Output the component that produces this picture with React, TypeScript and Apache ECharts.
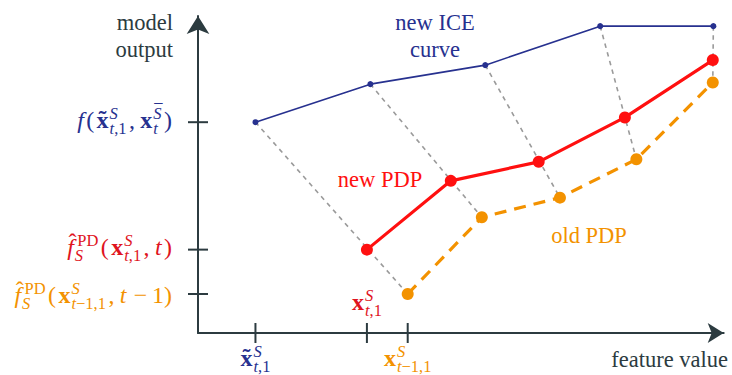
import React, { useEffect, useRef } from "react";
import * as echarts from "echarts";

// ---------------- data ----------------
const iceX = [1, 3, 5, 7, 8.97];
const iceY = [6.65, 7.85, 8.45, 9.68, 9.68];
const newPdpX = [2.94, 4.4, 5.93, 7.43, 8.96];
const newPdpY = [2.63, 4.8, 5.4, 6.8, 8.61];
const oldPdpX = [3.65, 4.94, 6.3, 7.63, 8.96];
const oldPdpY = [1.23, 3.65, 4.27, 5.48, 7.9];

const seriesNames = ["new ICE curve", "new PDP", "old PDP"];
const yAxisTitle = ["model", "output"];
const xAxisTitle = "feature value";

// math tick labels: [text, flags]
// flags: i italic, b bold, ^ superscript, _ subscript, | stacked under superscript,
//        ~ tilde accent, h hat accent, - bar accent, s thin space after
type Piece = [string, string];
const yTickLabels: Piece[][] = [
  [["f", "i"], ["(", ""], ["x", "b~"], ["S", "^i"], ["t", "_i|"], [",1", "_"], [",", "s"], ["x", "b"], ["S", "^i-"], ["t", "_i|"], [")", ""]],
  [["f", "ih"], ["PD", "^"], ["S", "_i|"], ["(", ""], ["x", "b"], ["S", "^i"], ["t", "_i|"], [",1", "_"], [",", "s"], ["t", "i"], [")", ""]],
  [["f", "ih"], ["PD", "^"], ["S", "_i|"], ["(", ""], ["x", "b"], ["S", "^i"], ["t", "_i|"], ["\u22121,1", "_"], [",", "s"], ["t", "i"], ["\u2009\u2212\u20091)", ""]],
];
const xTickLabels: Piece[][] = [
  [["x", "b~"], ["S", "^i"], ["t", "_i|"], [",1", "_"]],
  [["x", "b"], ["S", "^i"], ["t", "_i|"], [",1", "_"]],
  [["x", "b"], ["S", "^i"], ["t", "_i|"], ["\u22121,1", "_"]],
];

// ---------------- styles ----------------
const AXIS = "#2c3b40";
const BLUE = "#27318f";
const RED = "#ff1010";
const RED_TXT = "#e0141e";
const ORANGE = "#f39200";
const GRAY = "#9a9a9a";
const FONT = "Liberation Serif";
const BASE = 24;
const SCRIPT = 16.5;
const SUP = -9;
const SUB = 6;
const GAP = 2.4;
const THIN = 3;
const CENTRAL = 0.3375;

let mctx: CanvasRenderingContext2D | null = null;
function textW(t: string, size: number, it: boolean, b: boolean) {
  if (!mctx) mctx = document.createElement("canvas").getContext("2d");
  mctx!.font = `${it ? "italic " : ""}${b ? "bold " : ""}${size}px ${FONT}`;
  return mctx!.measureText(t).width;
}

function textEl(t: string, x: number, baseline: number, size: number, it: boolean, b: boolean, color: string, align = "left") {
  return {
    type: "text",
    x,
    y: baseline - CENTRAL * size,
    silent: true,
    z: 20,
    style: {
      text: t,
      fontSize: size,
      fontFamily: FONT,
      fontStyle: it ? "italic" : "normal",
      fontWeight: b ? "bold" : "normal",
      fill: color,
      align,
      verticalAlign: "middle",
      textAlign: align,
      textVerticalAlign: "middle",
    },
  };
}

function layoutMath(pieces: Piece[], color: string) {
  const els: any[] = [];
  let cur = 0;
  let maxX = 0;
  let scriptStart = 0;
  let prevScript = false;
  let prevItalicBase = false;
  pieces.forEach(([t, f], idx) => {
    const it = f.includes("i");
    const b = f.includes("b");
    const sup = f.includes("^");
    const sub = f.includes("_");
    const script = sup || sub;
    const size = script ? SCRIPT : BASE;
    if (!script) {
      cur = maxX + (idx > 0 ? GAP : 0);
    } else if (f.includes("|")) {
      cur = scriptStart;
    } else if (!prevScript) {
      scriptStart = maxX + 1;
      cur = scriptStart + (sup && prevItalicBase ? 2.5 : 0);
    }
    const w = textW(t, size, it, b);
    const dy = sup ? SUP : sub ? SUB : 0;
    els.push(textEl(t, cur, dy, size, it, b, color));
    if (f.includes("~")) els.push(textEl("\u02DC", cur + w / 2, dy - 1, BASE, false, true, color, "center"));
    if (f.includes("h")) els.push(textEl("\u02C6", cur + w / 2 + 2, dy - 5, BASE, false, false, color, "center"));
    if (f.includes("-")) els.push(textEl("\u00AF", cur + w / 2 + 1, dy - 3, SCRIPT, false, false, color, "center"));
    cur += w + (f.includes("s") ? THIN : 0);
    maxX = Math.max(maxX, cur);
    prevScript = script;
    if (!script) prevItalicBase = it;
  });
  return { els, width: maxX };
}

const option: any = {
  animation: false,
  grid: { left: 198, right: 8.3, top: 16, bottom: 42, containLabel: false, outerBoundsMode: "none" },
  xAxis: {
    type: "value",
    min: 0,
    max: 9.15,
    splitLine: { show: false },
    axisTick: { show: false },
    axisLabel: { show: false },
    axisLine: { show: true, onZero: false, symbol: ["none", "arrow"], symbolSize: [15, 16], lineStyle: { color: AXIS, width: 2 } },
  },
  yAxis: {
    type: "value",
    min: 0,
    max: 10,
    splitLine: { show: false },
    axisTick: { show: false },
    axisLabel: { show: false },
    axisLine: { show: true, onZero: false, symbol: ["none", "arrow"], symbolSize: [17, 18], lineStyle: { color: AXIS, width: 2 } },
  },
  series: [
    {
      type: "custom",
      name: "links",
      silent: true,
      z: 1,
      data: iceX.map((x, i) => [x, iceY[i], oldPdpX[i], oldPdpY[i]]),
      encode: { x: [0, 2], y: [1, 3] },
      renderItem: (_p: any, api: any) => {
        const a = api.coord([api.value(0), api.value(1)]);
        const b = api.coord([api.value(2), api.value(3)]);
        return {
          type: "line",
          shape: { x1: a[0], y1: a[1], x2: b[0], y2: b[1] },
          style: { stroke: GRAY, lineWidth: 1.6, lineDash: [4.5, 4.5] },
        };
      },
    },
    {
      type: "custom",
      name: "xticks",
      silent: true,
      z: 5,
      data: [iceX[0], newPdpX[0], oldPdpX[0]].map((v) => [v, 0]),
      encode: { x: 0, y: 1 },
      renderItem: (_p: any, api: any) => {
        const p = api.coord([api.value(0), api.value(1)]);
        return { type: "line", shape: { x1: p[0], y1: p[1] - 10, x2: p[0], y2: p[1] + 10 }, style: { stroke: AXIS, lineWidth: 2 } };
      },
    },
    {
      type: "custom",
      name: "yticks",
      silent: true,
      z: 5,
      data: [iceY[0], newPdpY[0], oldPdpY[0]].map((v) => [0, v]),
      encode: { x: 0, y: 1 },
      renderItem: (_p: any, api: any) => {
        const p = api.coord([api.value(0), api.value(1)]);
        return { type: "line", shape: { x1: p[0] - 10, y1: p[1], x2: p[0] + 10, y2: p[1] }, style: { stroke: AXIS, lineWidth: 2 } };
      },
    },
    {
      type: "line",
      name: seriesNames[2],
      z: 3,
      data: oldPdpX.map((x, i) => [x, oldPdpY[i]]),
      symbol: "circle",
      symbolSize: 12,
      itemStyle: { color: ORANGE },
      lineStyle: { color: ORANGE, width: 3.2, type: [12, 8] },
    },
    {
      type: "line",
      name: seriesNames[1],
      z: 4,
      data: newPdpX.map((x, i) => [x, newPdpY[i]]),
      symbol: "circle",
      symbolSize: 12,
      itemStyle: { color: RED },
      lineStyle: { color: RED, width: 3.2 },
    },
    {
      type: "line",
      name: seriesNames[0],
      z: 4,
      data: iceX.map((x, i) => [x, iceY[i]]),
      symbol: "circle",
      symbolSize: 6,
      itemStyle: { color: BLUE },
      lineStyle: { color: BLUE, width: 1.6 },
    },
  ],
};

export default function App() {
  const ref = useRef<HTMLDivElement>(null);
  useEffect(() => {
    document.body.style.margin = "0";
    const chart = echarts.init(ref.current!, null, { renderer: "svg" });
    chart.setOption(option);
    const toPx = (x: number, y: number) => chart.convertToPixel({ gridIndex: 0 }, [x, y]) as number[];
    const g: any[] = [];
    const tickColors = [BLUE, RED_TXT, ORANGE];

    const yTicks = [iceY[0], newPdpY[0], oldPdpY[0]];
    const yDy = [5.5, 5.5, 9];
    yTickLabels.forEach((pcs, k) => {
      const [ax, py] = toPx(0, yTicks[k]);
      const { els, width } = layoutMath(pcs, tickColors[k]);
      const ox = ax - 26 - width;
      const oy = py + yDy[k];
      els.forEach((e) => { e.x += ox; e.y += oy; g.push(e); });
    });

    const xTicks = [iceX[0], newPdpX[0], oldPdpX[0]];
    const xDy = [33, -23, 33];
    xTickLabels.forEach((pcs, k) => {
      const [px, ay] = toPx(xTicks[k], 0);
      const { els, width } = layoutMath(pcs, tickColors[k]);
      const ox = px - width / 2;
      const oy = ay + xDy[k];
      els.forEach((e) => { e.x += ox; e.y += oy; g.push(e); });
    });

    const plain = (text: string, x: number, y: number, color: string, align: string) => ({
      type: "text",
      x,
      y,
      silent: true,
      z: 20,
      style: { text, fontSize: 22.5, fontFamily: FONT, fill: color, lineHeight: 27, align, verticalAlign: "middle", textAlign: align, textVerticalAlign: "middle" },
    });
    g.push(plain(yAxisTitle.join("\n"), 173, 36, AXIS, "right"));
    g.push(plain("new ICE\ncurve", 435, 36, BLUE, "center"));
    g.push(plain(seriesNames[1], 380, 179.4, RED, "center"));
    g.push(plain(seriesNames[2], 589, 235.4, ORANGE, "center"));
    g.push(plain(xAxisTitle, 728, 359.4, AXIS, "right"));

    chart.setOption({ graphic: g });
    return () => chart.dispose();
  }, []);
  return <div ref={ref} style={{ width: 732, height: 375 }} />;
}
